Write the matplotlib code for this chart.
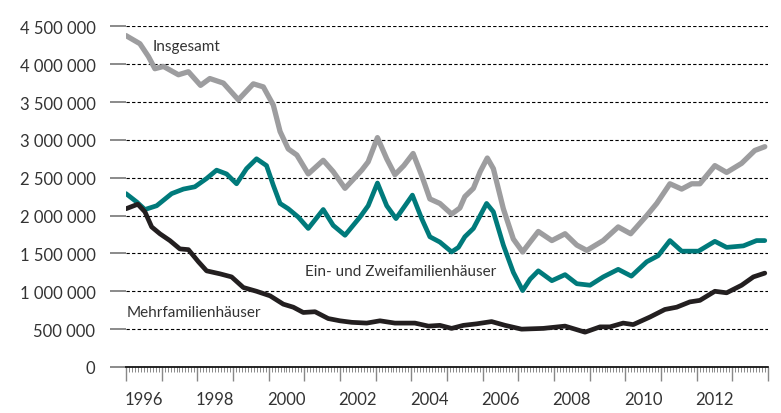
import matplotlib.pyplot as plt
from matplotlib.ticker import FuncFormatter, MultipleLocator
import numpy as np

plt.rcParams['font.family'] = ['Lato', 'DejaVu Sans']

# Insgesamt (grey)
total_x = [1996.0, 1996.39, 1996.63, 1996.81, 1997.05, 1997.47, 1997.75, 1998.09, 1998.35,
           1998.73, 1999.15, 1999.57, 1999.85, 2000.13, 2000.32, 2000.55, 2000.79, 2001.11,
           2001.53, 2001.81, 2002.14, 2002.61, 2002.79, 2003.05, 2003.31, 2003.54, 2003.79,
           2004.05, 2004.29, 2004.52, 2004.80, 2005.13, 2005.36, 2005.50, 2005.74, 2005.93,
           2006.13, 2006.30, 2006.58, 2006.86, 2007.12, 2007.33, 2007.56, 2007.94, 2008.31,
           2008.64, 2008.92, 2009.38, 2009.80, 2010.15, 2010.60, 2010.88, 2011.25, 2011.58,
           2011.86, 2012.09, 2012.51, 2012.84, 2013.26, 2013.63, 2013.91]
total_y = [4.377, 4.27, 4.10, 3.94, 3.97, 3.86, 3.90, 3.72, 3.81,
           3.75, 3.53, 3.74, 3.70, 3.46, 3.11, 2.88, 2.80, 2.55,
           2.73, 2.58, 2.36, 2.60, 2.71, 3.03, 2.75, 2.54, 2.66,
           2.82, 2.53, 2.22, 2.16, 2.02, 2.10, 2.25, 2.36, 2.58,
           2.76, 2.62, 2.09, 1.69, 1.52, 1.65, 1.79, 1.67, 1.76,
           1.61, 1.54, 1.67, 1.85, 1.76, 2.00, 2.16, 2.42, 2.35,
           2.42, 2.42, 2.66, 2.57, 2.69, 2.86, 2.91]

# Ein- und Zweifamilienhäuser (teal)
efh_x = [1996.0, 1996.3, 1996.53, 1996.86, 1997.28, 1997.61, 1997.93, 1998.26, 1998.54,
         1998.82, 1999.10, 1999.38, 1999.66, 1999.94, 2000.13, 2000.32, 2000.55, 2000.83,
         2001.11, 2001.53, 2001.81, 2002.14, 2002.56, 2002.79, 2003.05, 2003.31, 2003.57,
         2004.03, 2004.29, 2004.52, 2004.80, 2005.13, 2005.32, 2005.50, 2005.74, 2005.93,
         2006.11, 2006.30, 2006.58, 2006.86, 2007.12, 2007.33, 2007.56, 2007.94, 2008.31,
         2008.64, 2009.01, 2009.38, 2009.80, 2010.17, 2010.60, 2010.92, 2011.25, 2011.58,
         2012.05, 2012.51, 2012.84, 2013.31, 2013.68, 2013.91]
efh_y = [2.29, 2.18, 2.08, 2.13, 2.29, 2.35, 2.38, 2.49, 2.60,
         2.55, 2.42, 2.62, 2.75, 2.66, 2.40, 2.16, 2.09, 1.98,
         1.83, 2.08, 1.87, 1.74, 1.98, 2.13, 2.43, 2.13, 1.96,
         2.27, 1.96, 1.72, 1.65, 1.52, 1.58, 1.72, 1.83, 2.00,
         2.16, 2.05, 1.61, 1.25, 1.01, 1.16, 1.27, 1.14, 1.22,
         1.10, 1.08, 1.19, 1.29, 1.20, 1.39, 1.47, 1.67, 1.53,
         1.53, 1.66, 1.58, 1.60, 1.67, 1.67]

# Mehrfamilienhäuser (black)
mfh_x = [1996.0, 1996.33, 1996.53, 1996.72, 1996.95, 1997.23, 1997.51, 1997.75, 1998.03,
         1998.26, 1998.64, 1998.96, 1999.29, 1999.66, 2000.04, 2000.41, 2000.69, 2000.97,
         2001.30, 2001.67, 2002.00, 2002.33, 2002.75, 2003.12, 2003.54, 2004.10, 2004.48,
         2004.80, 2005.13, 2005.46, 2005.83, 2006.25, 2006.63, 2007.09, 2007.70, 2008.31,
         2008.87, 2009.29, 2009.57, 2009.94, 2010.22, 2010.69, 2011.11, 2011.44, 2011.81,
         2012.09, 2012.51, 2012.84, 2013.26, 2013.59, 2013.91]
mfh_y = [2.09, 2.15, 2.05, 1.85, 1.76, 1.67, 1.56, 1.55, 1.39,
         1.27, 1.23, 1.19, 1.05, 1.00, 0.94, 0.83, 0.79, 0.72,
         0.73, 0.64, 0.61, 0.59, 0.58, 0.61, 0.58, 0.58, 0.54,
         0.55, 0.51, 0.55, 0.57, 0.60, 0.55, 0.50, 0.51, 0.54,
         0.46, 0.53, 0.53, 0.58, 0.56, 0.66, 0.76, 0.79, 0.86,
         0.88, 1.00, 0.98, 1.08, 1.19, 1.24]

label_years = [1996, 1998, 2000, 2002, 2004, 2006, 2008, 2010, 2012]

GREY = '#9d9d9f'
TEAL = '#007a7b'
BLACK = '#231f20'
TEXT = '#333333'

fig = plt.figure(figsize=(7.81, 4.14), dpi=100)
ax = fig.add_axes([126 / 781, 1 - 368 / 414, (768 - 126) / 781, (368 - 27.3) / 414])

line_kw = dict(solid_capstyle='round', solid_joinstyle='round', zorder=3)
ax.plot(total_x, np.array(total_y) * 1e6, color=GREY, lw=3.8, **line_kw)
ax.plot(efh_x, np.array(efh_y) * 1e6, color=TEAL, lw=3.4, **line_kw)
ax.plot(mfh_x, np.array(mfh_y) * 1e6, color=BLACK, lw=3.4, **line_kw)

ax.set_xlim(1996, 2014)
ax.set_ylim(0, 4.5e6)

# y axis
ax.yaxis.set_major_locator(MultipleLocator(500000))
ax.yaxis.set_major_formatter(FuncFormatter(lambda v, p: f"{int(v):,}".replace(",", " ")))
ax.tick_params(axis='y', length=11.5, width=1.2, color='#777777', pad=10.5,
               labelsize=12, labelcolor=TEXT)
ax.yaxis.get_major_ticks()[0].tick1line.set_color('black')
ax.grid(axis='y', linestyle=(0, (3, 2)), color='black', linewidth=0.8)

# x axis: yearly major ticks, monthly minor ticks, labels mid-year
ax.xaxis.set_major_locator(MultipleLocator(1))
ax.xaxis.set_minor_locator(MultipleLocator(1 / 12))
ax.tick_params(axis='x', which='major', length=10, width=1, color='#888888', labelbottom=False)
ax.tick_params(axis='x', which='minor', length=3.5, width=0.6, color='#777777')
for yr in label_years:
    ax.annotate(str(yr), xy=(yr + 0.5, 0), xytext=(0, -32), textcoords='offset pixels',
                ha='center', va='center', fontsize=12, color=TEXT, annotation_clip=False)

for s in ['top', 'right', 'left']:
    ax.spines[s].set_visible(False)
ax.spines['bottom'].set_color('black')
ax.spines['bottom'].set_linewidth(1.2)
ax.set_axisbelow(True)

# series labels
ax.text(1996.76, 4.235e6, 'Insgesamt', fontsize=11, color=TEXT, va='center', ha='left')
ax.text(2001.02, 1.27e6, 'Ein- und Zweifamilienhäuser', fontsize=11, color=TEXT, va='center', ha='left')
ax.text(1996.03, 0.732e6, 'Mehrfamilienhäuser', fontsize=11, color=TEXT, va='center', ha='left')

plt.savefig('out.png', dpi=100)
plt.close(fig)
